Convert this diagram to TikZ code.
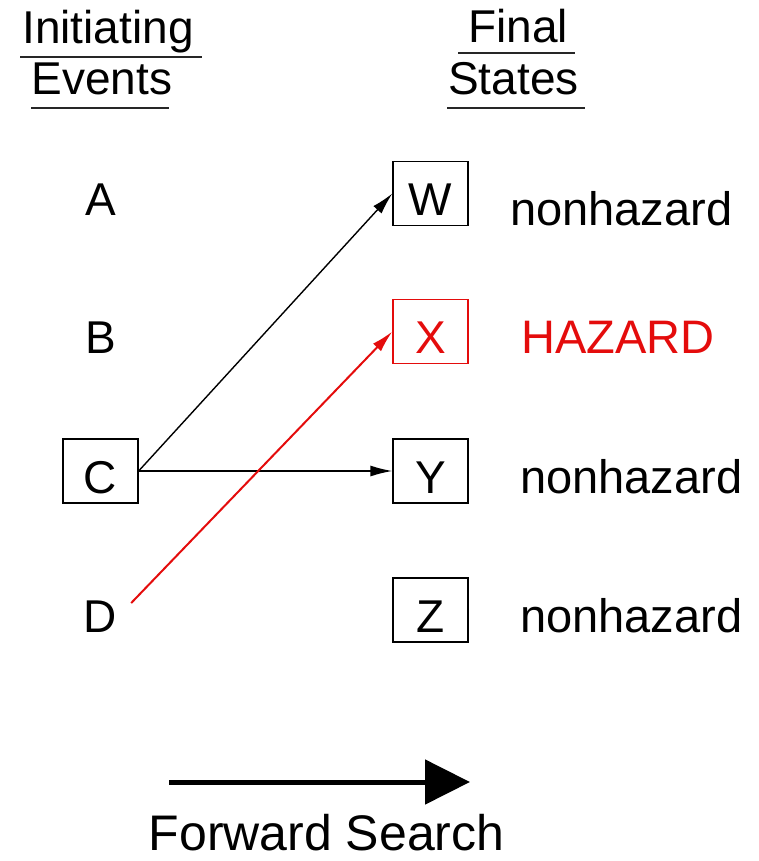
\documentclass[tikz,border=0pt]{standalone}
\usepackage{fontspec}
\setmainfont{Liberation Sans}
\usetikzlibrary{arrows.meta}
\definecolor{hazred}{RGB}{228,12,12}
\begin{document}
\begin{tikzpicture}[x=1pt,y=-1pt,
  every node/.style={font=\fontsize{46}{55}\selectfont},
  state/.style={minimum width=75pt,inner xsep=0pt,inner ysep=2pt,
                text height=52pt,text depth=8pt},
  boxed/.style={state,draw,line width=1.3pt},
  label/.style={anchor=base west,inner sep=0pt,font=\fontsize{47}{56}\selectfont},
  header/.style={anchor=base,inner sep=0pt},
  rule/.style={line width=1.8pt,draw=black!85},
  link/.style={line width=1.4pt,-{Latex[length=22pt,width=11pt]}},
  haz/.style={color=hazred}]
\useasboundingbox (0,0) rectangle (758,861);

% column headings
\node[header] (hInit) at (108,44) {Initiating};
\node[header] (hEv)   at (102,95) {Events};
\node[header] (hFin)  at (518,43) {Final};
\node[header] (hSt)   at (513.5,95) {States};
\draw[rule] (20,57) -- (202,57);
\draw[rule] (31,108) -- (169,108);
\draw[rule] (458,53) -- (575,53);
\draw[rule] (447,108) -- (585,108);

% initiating events
\node[state]  (A) at (100.5,193.5) {A};
\node[state]  (B) at (100.5,331.5) {B};
\node[boxed]  (C) at (100.5,471)   {C};
\node[state]  (D) at (100.5,610)   {D};

% final states
\node[boxed]     (W) at (430.5,193.5) {W};
\node[boxed,haz] (X) at (430.5,331.5) {X};
\node[boxed]     (Y) at (430.5,471)   {Y};
\node[boxed]     (Z) at (430.5,610)   {Z};

\node[label]     (lW) at (510,225) {nonhazard};
\node[label,haz] (lX) at (521,353) {HAZARD};
\node[label]     (lY) at (520,493) {nonhazard};
\node[label]     (lZ) at (520,632) {nonhazard};

% event sequences
\draw[link] (C.east) -- (W.west);
\draw[link] (C.east) -- (Y.west);
\draw[link,draw=hazred,fill=hazred,line width=2pt] ([shift={(-7,-7)}]D.east) -- (X.west);

% search direction
\coordinate (fsA) at (169,782);
\coordinate (fsB) at (470,782);
\draw[line width=5pt,-{Triangle[length=45pt,width=44pt]}] (fsA) -- (fsB);
\node[header,text depth=0pt,font=\fontsize{50}{60}\selectfont] (fs) at (326.5,850) {Forward Search};
\end{tikzpicture}
\end{document}
